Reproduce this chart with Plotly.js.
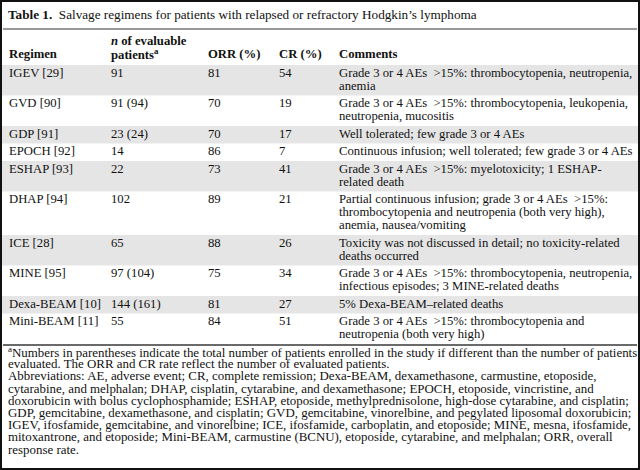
<!DOCTYPE html>
<html><head><meta charset="utf-8">
<script src="https://cdn.plot.ly/plotly-3.0.1.min.js"></script>
<style>body{margin:0;padding:0;background:#fff}#chart{width:640px;height:470px}</style>
</head><body><div id="chart"></div>
<script>
// ---- data ----
const headers = ["<b>Regimen</b>", "<b><i>n</i> of evaluable<br>patients<sup>a</sup></b>", "<b>ORR (%)</b>", "<b>CR (%)</b>", "<b>Comments</b>"];
const regimens = ["IGEV [29]", "GVD [90]", "GDP [91]", "EPOCH [92]", "ESHAP [93]", "DHAP [94]", "ICE [28]", "MINE [95]", "Dexa-BEAM [10]", "Mini-BEAM [11]"];
const nPatients = ["91", "91 (94)", "23 (24)", "14", "22", "102", "65", "97 (104)", "144 (161)", "55"];
const orr = [81, 70, 70, 86, 73, 89, 88, 75, 81, 84];
const cr = [54, 19, 17, 7, 41, 21, 26, 34, 27, 51];
const GT = "\u2002&gt;";
const comments = [
  "Grade 3 or 4 AEs" + GT + "15%: thrombocytopenia, neutropenia,<br>anemia",
  "Grade 3 or 4 AEs" + GT + "15%: thrombocytopenia, leukopenia,<br>neutropenia, mucositis",
  "Well tolerated; few grade 3 or 4 AEs",
  "Continuous infusion; well tolerated; few grade 3 or 4 AEs",
  "Grade 3 or 4 AEs" + GT + "15%: myelotoxicity; 1 ESHAP-<br>related death",
  "Partial continuous infusion; grade 3 or 4 AEs" + GT + "15%:<br>thrombocytopenia and neutropenia (both very high),<br>anemia, nausea/vomiting",
  "Toxicity was not discussed in detail; no toxicity-related<br>deaths occurred",
  "Grade 3 or 4 AEs" + GT + "15%: thrombocytopenia, neutropenia,<br>infectious episodes; 3 MINE-related deaths",
  "5% Dexa-BEAM–related deaths",
  "Grade 3 or 4 AEs" + GT + "15%: thrombocytopenia and<br>neutropenia (both very high)"
];
const titleText = "<b>Table 1.</b>  Salvage regimens for patients with relapsed or refractory Hodgkin’s lymphoma";
const footnotes = [
  "<sup>a</sup>Numbers in parentheses indicate the total number of patients enrolled in the study if different than the number of patients",
  "evaluated. The ORR and CR rate reflect the number of evaluated patients.",
  "Abbreviations: AE, adverse event; CR, complete remission; Dexa-BEAM, dexamethasone, carmustine, etoposide,",
  "cytarabine, and melphalan; DHAP, cisplatin, cytarabine, and dexamethasone; EPOCH, etoposide, vincristine, and",
  "doxorubicin with bolus cyclophosphamide; ESHAP, etoposide, methylprednisolone, high-dose cytarabine, and cisplatin;",
  "GDP, gemcitabine, dexamethasone, and cisplatin; GVD, gemcitabine, vinorelbine, and pegylated liposomal doxorubicin;",
  "IGEV, ifosfamide, gemcitabine, and vinorelbine; ICE, ifosfamide, carboplatin, and etoposide; MINE, mesna, ifosfamide,",
  "mitoxantrone, and etoposide; Mini-BEAM, carmustine (BCNU), etoposide, cytarabine, and melphalan; ORR, overall",
  "response rate."
];

// ---- layout constants ----
const W = 640, H = 470;
const FONT = "Liberation Serif";
const TXT = "#111111";
const py = p => 1 - p / H;
const px = p => p / W;
const colX = [8, 110, 207, 278, 338];
const bodyTop = 65, lineStep = 13, singleRow = 17.5, firstOffset = 7.5;
const BODY = 12.7, TITLE = 13.2, FOOT = 12.92;

const columns = [regimens, nPatients, orr, cr, comments];
const annotations = [];
const shapes = [];

function addText(text, x, y, size, opts) {
  annotations.push(Object.assign({
    text: String(text), xref: "paper", yref: "paper", x: px(x), y: py(y),
    xanchor: "left", yanchor: "middle", showarrow: false, borderpad: 0,
    font: {family: FONT, size: size, color: TXT}
  }, opts || {}));
}

// title
addText(titleText, 7, 14.5, TITLE);
shapes.push({type: "line", xref: "paper", yref: "paper", x0: px(3), x1: px(637), y0: py(29), y1: py(29), line: {color: "#333", width: 1}});

// headers (bottom aligned)
headers.forEach((h, c) => {
  const parts = h.split("<br>");
  parts.forEach((p, k) => {
    let t = p;
    if (parts.length > 1) t = (k === 0 ? p + "</b>" : "<b>" + p);
    addText(t, colX[c], 54.5 - lineStep * (parts.length - 1 - k), BODY);
  });
});

// body rows
let rowTop = bodyTop;
regimens.forEach((_, i) => {
  const nLines = Math.max(...columns.map(col => String(col[i]).split("<br>").length));
  const h = singleRow + lineStep * (nLines - 1);
  if (i % 2 === 0) {
    shapes.push({type: "rect", xref: "paper", yref: "paper", layer: "below",
      x0: px(2), x1: px(638), y0: py(rowTop + h), y1: py(rowTop),
      fillcolor: "#e5e5e5", line: {width: 0}});
  }
  columns.forEach((col, c) => {
    String(col[i]).split("<br>").forEach((ln, k) => {
      addText(ln, colX[c], rowTop + firstOffset + lineStep * k, BODY);
    });
  });
  rowTop += h;
});

// bottom rule
shapes.push({type: "line", xref: "paper", yref: "paper", x0: px(3), x1: px(637), y0: py(rowTop + 1), y1: py(rowTop + 1), line: {color: "#6a6a6a", width: 2}});

// footnotes
footnotes.forEach((t, i) => addText(t, 7, rowTop + 7.5 + 12.2 * i, FOOT));

// outer frame
shapes.push({type: "rect", xref: "paper", yref: "paper", x0: px(1), x1: px(639), y0: py(469), y1: py(1), line: {color: "#111", width: 2}});

Plotly.newPlot("chart", [], {
  width: W, height: H, margin: {l: 0, r: 0, t: 0, b: 0},
  paper_bgcolor: "#ffffff", plot_bgcolor: "#ffffff",
  xaxis: {visible: false}, yaxis: {visible: false},
  annotations, shapes, showlegend: false
}, {displayModeBar: false, staticPlot: true});
</script></body></html>
